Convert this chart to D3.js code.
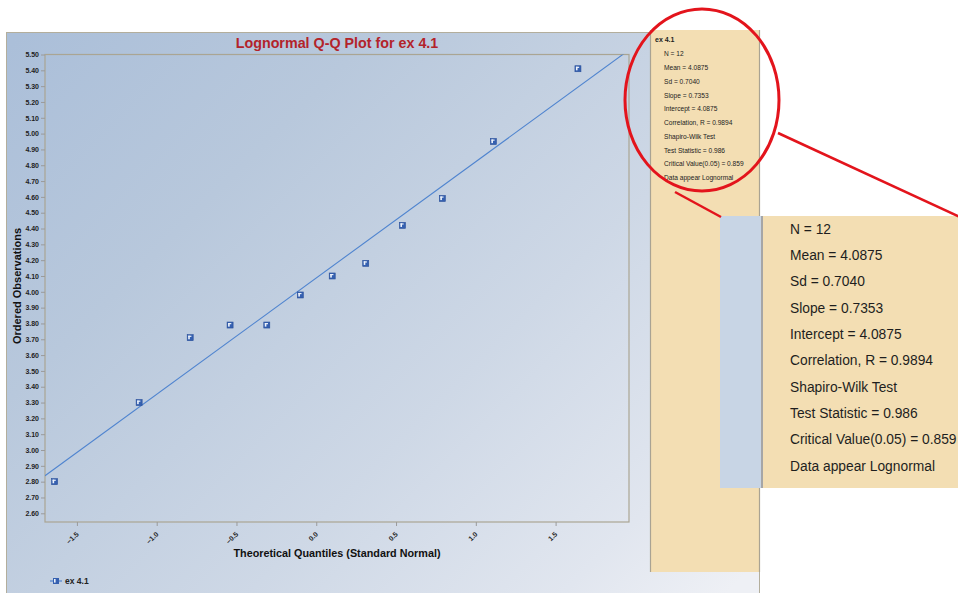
<!DOCTYPE html>
<html>
<head>
<meta charset="utf-8">
<script src="https://cdn.jsdelivr.net/npm/d3@7"></script>
<style>
  html, body { margin: 0; padding: 0; background: #ffffff; }
  svg { display: block; font-family: "Liberation Sans", Arial, sans-serif; }
</style>
</head>
<body>
<svg id="chart" width="958" height="593"></svg>
<script>
// Q-Q data: theoretical normal quantiles and ordered observations (log scale)
const seriesName = "ex 4.1";
const theoreticalQuantiles = [-1.64, -1.11, -0.79, -0.54, -0.31, -0.10, 0.10, 0.31, 0.54, 0.79, 1.11, 1.64];
const orderedObservations = [2.80, 3.30, 3.71, 3.79, 3.79, 3.98, 4.10, 4.18, 4.42, 4.59, 4.95, 5.41];
const xTickValues = [-1.5, -1.0, -0.5, 0.0, 0.5, 1.0, 1.5];
const yTickValues = [2.60, 2.70, 2.80, 2.90, 3.00, 3.10, 3.20, 3.30, 3.40, 3.50, 3.60, 3.70, 3.80, 3.90,
                     4.00, 4.10, 4.20, 4.30, 4.40, 4.50, 4.60, 4.70, 4.80, 4.90, 5.00, 5.10, 5.20, 5.30, 5.40, 5.50];
const fitSlope = 0.7353;
const fitIntercept = 4.0875;
const statLines = [
  "N = 12",
  "Mean = 4.0875",
  "Sd = 0.7040",
  "Slope = 0.7353",
  "Intercept = 4.0875",
  "Correlation, R = 0.9894",
  "Shapiro-Wilk Test",
  "Test Statistic = 0.986",
  "Critical Value(0.05) = 0.859",
  "Data appear Lognormal"
];

const svg = d3.select("#chart");
const defs = svg.append("defs");

// diagonal background wash of the chart panel
const bg = defs.append("linearGradient")
  .attr("id", "panelGrad")
  .attr("gradientUnits", "userSpaceOnUse")
  .attr("x1", 0).attr("y1", 0).attr("x2", 680).attr("y2", 680);
[[0.04, "#abbfd9"], [0.30, "#b8c8dc"], [0.62, "#ced8e6"], [0.85, "#e1e6ef"], [0.97, "#eef0f5"]]
  .forEach(([o, c]) => bg.append("stop").attr("offset", o).attr("stop-color", c));

const plot = { left: 45, right: 629, top: 54.5, bottom: 522 };

defs.append("clipPath").attr("id", "plotClip")
  .append("rect")
  .attr("x", plot.left).attr("y", plot.top)
  .attr("width", plot.right - plot.left).attr("height", plot.bottom - plot.top);

// outer panel
svg.append("rect")
  .attr("x", 6.5).attr("y", 32.5).attr("width", 753).attr("height", 562)
  .attr("fill", "url(#panelGrad)")
  .attr("stroke", "#b3ae9c").attr("stroke-width", 1);

// scales
const x = d3.scaleLinear().domain([-1.70, 1.96]).range([plot.left, plot.right]);
const y = d3.scaleLinear().domain([2.545, 5.50]).range([plot.bottom, plot.top]);

// title
svg.append("text")
  .attr("x", 337).attr("y", 47.5)
  .attr("text-anchor", "middle")
  .attr("font-size", 14.3).attr("font-weight", "bold")
  .attr("fill", "#b3232a")
  .text("Lognormal Q-Q Plot for " + seriesName);

// plot frame
svg.append("rect")
  .attr("x", plot.left).attr("y", plot.top)
  .attr("width", plot.right - plot.left).attr("height", plot.bottom - plot.top)
  .attr("fill", "none").attr("stroke", "#aaa593").attr("stroke-width", 1.2);

// y axis
const yAxis = svg.append("g")
  .attr("transform", `translate(${plot.left},0)`)
  .call(d3.axisLeft(y).tickValues(yTickValues).tickFormat(d3.format(".2f")).tickSize(4).tickPadding(2));
yAxis.select(".domain").remove();
yAxis.selectAll(".tick line").attr("stroke", "#9a9a9a");
yAxis.selectAll(".tick text")
  .attr("font-family", "Liberation Sans, Arial, sans-serif")
  .attr("font-size", 7).attr("font-weight", "bold").attr("fill", "#222");

// x axis
const xAxis = svg.append("g")
  .attr("transform", `translate(0,${plot.bottom})`)
  .call(d3.axisBottom(x).tickValues(xTickValues).tickFormat(d3.format(".1f")).tickSize(4));
xAxis.select(".domain").remove();
xAxis.selectAll(".tick line").attr("stroke", "#9a9a9a");
xAxis.selectAll(".tick text")
  .attr("font-family", "Liberation Sans, Arial, sans-serif")
  .attr("font-size", 7).attr("font-weight", "bold").attr("fill", "#222")
  .attr("text-anchor", "end")
  .attr("x", 0).attr("y", 0).attr("dy", "0.35em")
  .attr("transform", "translate(0,11) rotate(-45)");

// axis titles
svg.append("text")
  .attr("transform", "translate(21,286) rotate(-90)")
  .attr("text-anchor", "middle")
  .attr("font-size", 11).attr("font-weight", "bold").attr("fill", "#111")
  .text("Ordered Observations");
svg.append("text")
  .attr("x", 337).attr("y", 556.5)
  .attr("text-anchor", "middle")
  .attr("font-size", 10.8).attr("font-weight", "bold").attr("fill", "#111")
  .text("Theoretical Quantiles (Standard Normal)");

// fitted line: intercept + slope * z, clipped to the plot frame
const xDom = x.domain();
svg.append("line")
  .attr("clip-path", "url(#plotClip)")
  .attr("x1", x(xDom[0])).attr("y1", y(fitIntercept + fitSlope * xDom[0]))
  .attr("x2", x(xDom[1])).attr("y2", y(fitIntercept + fitSlope * xDom[1]))
  .attr("stroke", "#4f84cf").attr("stroke-width", 1.1);

// point markers
const pts = theoreticalQuantiles.map((q, i) => ({ q, v: orderedObservations[i] }));
const marker = svg.append("g").selectAll("g").data(pts).join("g")
  .attr("transform", d => `translate(${x(d.q)},${y(d.v)})`);
marker.append("rect")
  .attr("x", -3).attr("y", -3).attr("width", 6).attr("height", 6)
  .attr("fill", "#3560b0").attr("stroke", "#284e99").attr("stroke-width", 0.6);
marker.append("rect")
  .attr("x", -2).attr("y", -2).attr("width", 1.6).attr("height", 3.6)
  .attr("fill", "#eef3fb");
marker.append("rect")
  .attr("x", -2).attr("y", -2).attr("width", 3.2).attr("height", 1.2)
  .attr("fill", "#eef3fb");

// legend
const leg = svg.append("g").attr("transform", "translate(50,581)");
leg.append("line").attr("x1", 0).attr("x2", 12).attr("y1", 0).attr("y2", 0)
  .attr("stroke", "#4f84cf").attr("stroke-width", 1.2);
leg.append("rect").attr("x", 3).attr("y", -3).attr("width", 6).attr("height", 6)
  .attr("fill", "#3560b0");
leg.append("rect").attr("x", 4).attr("y", -2).attr("width", 1.6).attr("height", 3.6)
  .attr("fill", "#eef3fb");
leg.append("text").attr("x", 15).attr("y", 0).attr("dy", "0.35em")
  .attr("font-size", 8.5).attr("font-weight", "bold").attr("fill", "#222")
  .text(seriesName);

// statistics side panel
const side = svg.append("g");
side.append("rect")
  .attr("x", 650.5).attr("y", 30).attr("width", 109).attr("height", 542)
  .attr("fill", "#f3deb3");
side.append("line").attr("x1", 650.5).attr("x2", 650.5).attr("y1", 30).attr("y2", 572)
  .attr("stroke", "#a9a393").attr("stroke-width", 1.2);
side.append("line").attr("x1", 759.5).attr("x2", 759.5).attr("y1", 30).attr("y2", 572)
  .attr("stroke", "#a9a393").attr("stroke-width", 1.2);
side.append("text").attr("x", 655).attr("y", 40).attr("dy", "0.35em")
  .attr("font-size", 7).attr("font-weight", "bold").attr("fill", "#222")
  .text(seriesName);
side.selectAll("text.stat").data(statLines).join("text")
  .attr("class", "stat")
  .attr("x", 664).attr("y", (d, i) => 54 + i * 13.75).attr("dy", "0.35em")
  .attr("font-size", 6.6).attr("fill", "#222")
  .text(d => d);

// enlarged callout of the statistics
const call = svg.append("g");
call.append("rect")
  .attr("x", 720).attr("y", 216).attr("width", 42).attr("height", 272)
  .attr("fill", "#c8d5e5");
call.append("rect")
  .attr("x", 762).attr("y", 216).attr("width", 196).attr("height", 272)
  .attr("fill", "#f3deb3");
call.append("line").attr("x1", 762).attr("x2", 762).attr("y1", 216).attr("y2", 488)
  .attr("stroke", "#a6a6a6").attr("stroke-width", 2);
call.selectAll("text").data(statLines).join("text")
  .attr("x", 790).attr("y", (d, i) => 229 + i * 26.3).attr("dy", "0.35em")
  .attr("font-size", 13.8).attr("fill", "#1e1e1e")
  .text(d => d);

// red highlight ellipse and leader lines
const red = "#e3141c";
svg.append("ellipse")
  .attr("cx", 702).attr("cy", 100).attr("rx", 77).attr("ry", 91)
  .attr("fill", "none").attr("stroke", red).attr("stroke-width", 3);
svg.append("line").attr("x1", 778).attr("y1", 133).attr("x2", 960).attr("y2", 217)
  .attr("stroke", red).attr("stroke-width", 2.5);
svg.append("line").attr("x1", 675).attr("y1", 192).attr("x2", 721).attr("y2", 217)
  .attr("stroke", red).attr("stroke-width", 2.5);
</script>
</body>
</html>
